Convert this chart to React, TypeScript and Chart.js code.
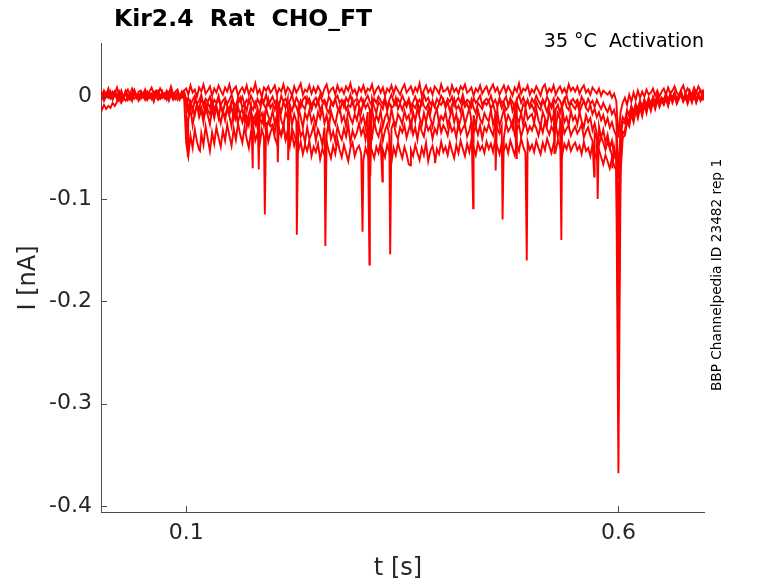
import React, { useEffect, useRef } from 'react';
import { Chart, registerables } from 'chart.js';

Chart.register(...registerables);

// sample times (ms) shared by all sweeps, rows of 50 ms
const sampleMs = [
  0, 2.5, 5, 7.5, 10, 12.5, 15, 17.5, 20, 22.5, 25, 27.5, 30, 32.5, 35, 37.5, 40, 42.5, 45, 47.5,
  50, 52.5, 55, 57.5, 60, 62.5, 65, 67.5, 70, 72.5, 75, 77.5, 80, 82.5, 85, 87.5, 90, 92.5, 95, 97.5,
  100, 102.5, 105, 107.5, 110, 112.5, 115, 117.5, 120, 122.5, 125, 127.5, 130, 132.5, 135, 137.5, 140, 142.5, 145, 147.5,
  150, 152.5, 155, 157.5, 160, 162.5, 165, 167.5, 170, 172.5, 175, 177.5, 180, 182.5, 185, 187.5, 190, 192.5, 195, 197.5,
  200, 202.5, 205, 207.5, 210, 212.5, 215, 217.5, 220, 222.5, 225, 227.5, 230, 232.5, 235, 237.5, 240, 242.5, 245, 247.5,
  250, 252.5, 255, 257.5, 260, 262.5, 265, 267.5, 270, 272.5, 275, 277.5, 280, 282.5, 285, 287.5, 290, 292.5, 295, 297.5,
  300, 302.5, 305, 307.5, 310, 312.5, 315, 317.5, 320, 322.5, 325, 327.5, 330, 332.5, 335, 337.5, 340, 342.5, 345, 347.5,
  350, 352.5, 355, 357.5, 360, 362.5, 365, 367.5, 370, 372.5, 375, 377.5, 380, 382.5, 385, 387.5, 390, 392.5, 395, 397.5,
  400, 402.5, 405, 407.5, 410, 412.5, 415, 417.5, 420, 422.5, 425, 427.5, 430, 432.5, 435, 437.5, 440, 442.5, 445, 447.5,
  450, 452.5, 455, 457.5, 460, 462.5, 465, 467.5, 470, 472.5, 475, 477.5, 480, 482.5, 485, 487.5, 490, 492.5, 495, 497.5,
  500, 502.5, 505, 507.5, 510, 512.5, 515, 517.5, 520, 522.5, 525, 527.5, 530, 532.5, 535, 537.5, 540, 542.5, 545, 547.5,
  550, 552.5, 555, 557.5, 560, 562.5, 565, 567.5, 570, 572.5, 575, 577.5, 580, 582.5, 585, 587.5, 590, 592.5, 595, 597.5,
  600,
  602.5, 605, 607.5, 610, 612.5, 615, 617.5, 620, 622.5, 625, 627.5, 630, 632.5, 635, 637.5, 640, 642.5, 645, 647.5, 650,
  652.5, 655, 657.5, 660, 662.5, 665, 667.5, 670, 672.5, 675, 677.5, 680, 682.5, 685, 687.5, 690, 692.5, 695, 697.5, 700,
];

// currents in pA, one array per sweep, same rows as sampleMs
const sweepA = [
  4, -1, 6, 2, 8, 0, 5, 3, 9, 1, 6, -2, 4, 7, 2, 8, 3, -1, 5, 6,
  2, 7, 0, 5, 9, 3, 6, 1, 8, 4, -1, 6, 3, 10, 2, 5, 7, 0, 4, 6,
  8, 2, 11, 4, 7, 0, 9, 5, 12, 3, 6, 10, 1, 8, 4, 11, 6, 2, 9, 5,
  12, 3, 7, 10, 1, 6, 9, 4, 11, 2, 8, 5, 13, 3, 7, 0, 9, 6, 10, 4,
  7, 11, 2, 8, 5, 12, 3, 9, 6, 1, 10, 4, 8, 13, 2, 7, 5, 11, 3, 9,
  4, 10, 6, 1, 8, 12, 3, 7, 9, 2, 11, 5, 8, 3, 10, 6, 13, 4, 7, 1,
  9, 5, 11, 3, 8, 6, 12, 2, 7, 10, 4, 9, 1, 8, 5, 11, 3, 10, 6, 2,
  8, 12, 4, 7, 10, 3, 9, 5, 13, 1, 6, 11, 4, 8, 2, 10, 7, 3, 12, 5,
  6, 9, 2, 11, 5, 8, 3, 10, 7, 12, 4, 6, 9, 1, 8, 5, 11, 3, 7, 10,
  3, 8, 12, 5, 9, 2, 7, 11, 4, 10, 6, 1, 9, 5, 13, 3, 8, 6, 11, 2,
  7, 4, 10, 6, 1, 9, 12, 3, 8, 5, 11, 2, 7, 10, 4, 8, 3, 12, 6, 9,
  5, 10, 3, 8, 11, 4, 7, 2, 9, 6, 3, 8, 1, 6, 4, 2, 5, -1, 3, -4,
  -40,
  -15, -6, -1, -8, 2, -5, 4, -3, 6, -1, 5, 0, 7, 2, 4, 8, 1, 6, 0, 5,
  8, 2, 9, 3, 6, 10, 4, 1, 7, 11, 3, 8, 5, 2, 9, 4, 10, 6, 3, 8,
];
const sweepB = [
  -2, 3, -4, 1, -1, 5, -3, 2, 0, 4, -5, 1, 3, -2, 2, -4, 4, 0, -1, 3,
  1, -3, 4, -1, 2, -5, 3, 0, -2, 5, -1, 2, -4, 3, 0, -2, 4, -3, 1, 2,
  -6, -1, -9, -3, 1, -7, -4, 2, -8, -2, -5, 0, -10, -3, -6, 1, -8, -4, -1, -7,
  -3, 2, -6, -9, -1, -5, 0, -8, -3, -6, 1, -4, -10, -2, -7, -1, -5, 2, -8, -4,
  0, -6, -3, -9, 1, -5, -2, -7, -4, 2, -8, -1, -5, -10, -3, 0, -6, -2, -9, -4,
  -1, -7, 2, -5, -3, -9, 0, -4, -8, -2, 1, -6, -3, -10, -1, -5, 2, -7, -4, -2,
  -6, -1, -8, -3, 1, -5, -9, -2, -6, 0, -4, -7, -1, -10, -3, 2, -5, -8, -2, -6,
  1, -4, -7, -2, -9, -5, 0, -6, -3, -8, 2, -4, -1, -7, -5, -10, -2, -6, 1, -3,
  -8, -2, -5, 0, -9, -4, -1, -6, 2, -7, -3, -5, -10, -1, -6, -3, 1, -8, -4, -2,
  -5, 1, -7, -3, -9, -1, -6, -4, 0, -8, -2, -5, -10, -3, 2, -6, -1, -7, -4, -9,
  -2, -6, 1, -4, -8, -3, -7, 0, -5, -9, -2, -6, -1, -4, -10, -3, 1, -7, -5, -2,
  -6, -3, -9, 0, -5, -8, -2, -7, -4, -10, -3, -8, -12, -6, -11, -15, -9, -17, -13, -22,
  -80,
  -30, -20, -24, -13, -18, -9, -15, -7, -12, -4, -10, -3, -8, -1, -7, -2, -6, 1, -5, -1,
  -4, 2, -5, 3, -2, 4, -4, 1, 5, -3, 2, -4, 4, -1, 5, -3, 3, 6, -2, 2,
];
const sweepC = [
  -10, -13, -8, -12, -9, -11, -6, -9, -5, -3, -6, -1, -4, 0, -3, 2, -2, 1, -4, 0,
  -1, 3, -3, 1, -2, 4, 0, -3, 2, -1, 3, -2, 1, 4, -1, 2, -3, 1, 3, -1,
  -10, -22, -12, -28, -15, -8, -20, -13, -25, -10, -18, -27, -12, -21, -9, -17, -26, -14, -23, -11,
  -19, -29, -13, -22, -10, -18, -25, -14, -30, -17, -9, -21, -27, -12, -20, -16, -28, -11, -19, -24,
  -14, -26, -18, -10, -23, -29, -15, -21, -12, -27, -17, -24, -11, -20, -30, -16, -22, -13, -25, -19,
  -28, -15, -21, -12, -26, -18, -31, -14, -22, -27, -16, -10, -24, -19, -29, -13, -21, -26, -17, -23,
  -12, -25, -19, -30, -15, -22, -11, -27, -18, -24, -14, -29, -20, -16, -26, -12, -23, -28, -17, -21,
  -27, -14, -22, -18, -31, -15, -24, -11, -20, -28, -16, -25, -13, -21, -29, -18, -12, -26, -19, -23,
  -15, -28, -20, -12, -25, -17, -30, -22, -14, -27, -19, -11, -24, -18, -29, -13, -22, -26, -16, -21,
  -24, -13, -27, -19, -15, -29, -21, -12, -26, -18, -23, -30, -14, -20, -25, -16, -28, -11, -22, -19,
  -17, -26, -12, -23, -29, -15, -21, -27, -13, -24, -18, -30, -16, -22, -11, -25, -20, -28, -14, -23,
  -19, -27, -15, -24, -30, -18, -25, -21, -33, -26, -36, -29, -40, -32, -45, -37, -50, -43, -58, -62,
  -170,
  -55, -34, -36, -22, -27, -15, -23, -12, -19, -9, -17, -7, -14, -5, -12, -4, -11, -3, -9, -2,
  -7, -1, -8, 0, -5, 2, -6, -1, 3, -4, 1, -5, 0, -6, 2, -3, 1, -4, 3, -2,
];
const sweepD = [
  -1, 2, -3, 1, 4, -2, 0, 3, -1, 5, -2, 1, 3, -3, 2, 0, 4, -1, 2, -2,
  3, -1, 1, 4, -2, 2, 0, 5, -1, 3, 1, -3, 4, 0, 2, -2, 3, 1, -1, 2,
  -45, -58, -38, -50, -32, -44, -52, -36, -47, -29, -41, -53, -35, -46, -30, -40, -49, -33, -43, -27,
  -38, -48, -31, -42, -26, -37, -45, -30, -41, -50, -34, -28, -43, -36, -47, -32, -39, -25, -44, -35,
  -29, -40, -46, -33, -38, -27, -42, -35, -48, -31, -37, -44, -26, -39, -34, -45, -30, -41, -36, -28,
  -43, -32, -38, -47, -30, -36, -25, -41, -34, -44, -29, -37, -42, -31, -39, -27, -45, -33, -40, -35,
  -26, -37, -31, -42, -28, -35, -40, -24, -34, -39, -29, -43, -33, -27, -38, -31, -25, -36, -41, -30,
  -35, -28, -40, -32, -24, -37, -30, -42, -27, -34, -39, -26, -33, -29, -41, -31, -36, -23, -35, -28,
  -32, -38, -26, -34, -30, -40, -25, -36, -31, -27, -39, -33, -24, -35, -29, -37, -28, -41, -30, -34,
  -27, -33, -38, -25, -31, -36, -29, -40, -26, -34, -30, -24, -37, -32, -28, -39, -31, -26, -35, -29,
  -33, -26, -31, -38, -28, -35, -24, -32, -37, -29, -34, -27, -39, -30, -25, -36, -31, -28, -38, -33,
  -29, -36, -32, -27, -40, -34, -30, -38, -43, -35, -41, -47, -39, -45, -52, -44, -50, -57, -49, -60,
  -250,
  -62, -36, -34, -20, -25, -14, -21, -11, -18, -8, -16, -6, -13, -4, -11, -2, -10, -1, -8, -3,
  -6, 0, -7, 2, -4, 1, -5, -1, 3, -3, 0, -6, 2, -4, 1, -5, 3, -2, 0, -4,
];
const sweepE = [
  1, -2, 3, 0, 4, -1, 2, 5, -3, 1, 3, -1, 4, 0, -2, 2, 5, 1, -1, 3,
  0, 4, -2, 2, -1, 3, 1, 5, -2, 0, 3, -1, 4, 2, -3, 1, 3, 0, 5, -1,
  -8, -15, -5, -12, -18, -7, -14, -10, -20, -6, -13, -17, -9, -16, -11, -21, -8, -15, -19, -12,
  -17, -10, -22, -14, -25, -16, -12, -24, -19, -28, -15, -23, -18, -30, -21, -26, -17, -32, -24, -29,
  -27, -35, -22, -31, -38, -28, -42, -33, -45, -37, -48, -40, -52, -44, -56, -47, -53, -43, -58, -49,
  -54, -46, -61, -51, -57, -44, -53, -60, -48, -56, -42, -52, -59, -47, -55, -63, -50, -45, -58, -51,
  -48, -56, -62, -50, -57, -46, -53, -60, -49, -55, -44, -52, -59, -47, -54, -64, -50, -57, -45, -53,
  -60, -49, -56, -66, -52, -58, -47, -55, -62, -50, -57, -45, -63, -53, -48, -59, -51, -56, -44, -54,
  -49, -57, -45, -53, -60, -47, -55, -43, -51, -58, -46, -54, -42, -50, -57, -45, -52, -48, -55, -44,
  -51, -46, -54, -42, -49, -56, -45, -52, -47, -55, -43, -50, -57, -46, -53, -41, -49, -55, -44, -52,
  -47, -54, -43, -50, -56, -45, -52, -41, -48, -55, -46, -53, -42, -49, -57, -46, -51, -44, -53, -48,
  -45, -52, -48, -56, -44, -53, -50, -58, -47, -55, -61, -52, -59, -66, -57, -63, -70, -60, -67, -72,
  -368,
  -75, -40, -38, -24, -29, -17, -25, -13, -21, -10, -19, -8, -16, -6, -14, -5, -12, -3, -10, -4,
  -8, -2, -9, 0, -6, 1, -7, -2, 2, -5, 0, -7, 1, -4, 2, -6, 0, -3, 2, -1,
];
const sweepF = [
  0, 4, -2, 3, 6, 1, -1, 5, 2, -3, 4, 0, 6, 2, -1, 3, 7, 1, -2, 4,
  2, -1, 5, 1, 3, -2, 4, 6, 0, 3, -1, 5, 2, 7, 1, -2, 4, 0, 3, 5,
  -2, -10, -5, -14, -3, -8, -12, -1, -9, -15, -6, -11, -3, -13, -7, -2, -10, -16, -5, -9,
  -12, -4, -8, -15, -6, -1, -11, -7, -14, -3, -9, -13, -5, -10, -16, -4, -8, -12, -2, -11,
  -7, -13, -3, -9, -15, -5, -11, -2, -8, -14, -6, -10, -17, -4, -9, -12, -1, -7, -13, -5,
  -10, -3, -14, -8, -5, -12, -16, -6, -9, -2, -11, -15, -7, -4, -13, -8, -10, -3, -14, -6,
  -9, -15, -4, -11, -7, -13, -2, -10, -16, -5, -8, -12, -3, -14, -6, -11, -9, -1, -12, -7,
  -13, -6, -10, -3, -15, -8, -11, -5, -14, -2, -9, -12, -7, -16, -4, -10, -13, -6, -8, -3,
  -11, -5, -14, -8, -2, -12, -9, -15, -4, -10, -7, -13, -3, -11, -16, -6, -9, -12, -5, -8,
  -4, -12, -7, -15, -9, -3, -11, -6, -13, -10, -2, -14, -8, -5, -12, -16, -7, -10, -3, -11,
  -8, -14, -5, -10, -13, -3, -9, -15, -6, -11, -4, -12, -8, -16, -7, -2, -10, -13, -5, -9,
  -12, -6, -15, -9, -4, -11, -14, -8, -17, -12, -20, -15, -23, -18, -27, -21, -30, -25, -33, -38,
  -120,
  -40, -24, -26, -14, -19, -10, -16, -8, -13, -5, -11, -3, -9, -2, -8, 0, -6, 1, -5, -1,
  -3, 3, -4, 2, -1, 4, -3, 2, 5, -2, 3, -1, 6, 0, -2, 4, 1, -3, 5, 0,
];

// brief openings between samples: [ms, pA]
const spikesC = [[102, -59], [177, -70], [228, -135], [312, -164], [432, -109], [534, -140], [576, -100]];
const spikesD = [[116, -53], [191, -115], [261, -146], [336, -154], [466, -120], [572, -78], [593, -70]];
const spikesE = [[304, -132], [327, -83], [359, -67], [388, -65], [494, -160]];
const spikesF = [[184, -71], [206, -64], [218, -62], [313, -78], [458, -72], [482, -60], [526, -56]];

const xTicks = [0.1, 0.6];
const xTickLabels = ['0.1', '0.6'];
const yTicks = [-0.4, -0.3, -0.2, -0.1, 0];
const yTickLabels = ['-0.4', '-0.3', '-0.2', '-0.1', '0'];

const FONT = "'DejaVu Sans', sans-serif";
const AXIS = '#4d4d4d';
const TEXT = '#262626';

const toPoints = (vals: number[], spikes: number[][] = []) => {
  const pts = sampleMs.map((ms, i) => ({ x: ms / 1000, y: vals[i] / 1000 }));
  spikes.forEach(([ms, pA]) => pts.push({ x: ms / 1000, y: pA / 1000 }));
  return pts.sort((a, b) => a.x - b.x);
};

// inward ticks + texts, drawn like the matlab figure
const decor = {
  id: 'decor',
  afterDraw(chart: any) {
    const { ctx, chartArea: a } = chart;
    const x = chart.scales.x;
    const y = chart.scales.y;
    ctx.save();
    ctx.strokeStyle = AXIS;
    ctx.lineWidth = 1;
    ctx.beginPath();
    xTicks.forEach((v) => {
      const px = Math.round(x.getPixelForValue(v)) + 0.5;
      ctx.moveTo(px, a.bottom);
      ctx.lineTo(px, a.bottom - 6);
    });
    yTicks.forEach((v) => {
      const py = Math.round(y.getPixelForValue(v)) + 0.5;
      ctx.moveTo(a.left, py);
      ctx.lineTo(a.left + 6, py);
    });
    ctx.stroke();

    ctx.fillStyle = '#000';
    ctx.textBaseline = 'alphabetic';
    ctx.font = `bold 23.5px ${FONT}`;
    ctx.textAlign = 'left';
    ctx.fillText('Kir2.4  Rat  CHO_FT', 114, 26);
    ctx.font = `19px ${FONT}`;
    ctx.textAlign = 'right';
    ctx.fillText('35 °C  Activation', 704, 47);

    ctx.fillStyle = TEXT;
    ctx.font = `24px ${FONT}`;
    ctx.textAlign = 'center';
    ctx.fillText('t [s]', 398, 575);

    ctx.save();
    ctx.translate(35, 278);
    ctx.rotate(-Math.PI / 2);
    ctx.fillText('I [nA]', 0, 0);
    ctx.restore();

    ctx.fillStyle = '#000';
    ctx.font = `13.7px ${FONT}`;
    ctx.save();
    ctx.translate(721, 275);
    ctx.rotate(-Math.PI / 2);
    ctx.fillText('BBP Channelpedia ID 23482 rep 1', 0, 0);
    ctx.restore();
    ctx.restore();
  },
};

const sweeps = [
  toPoints(sweepE, spikesE),
  toPoints(sweepD, spikesD),
  toPoints(sweepC, spikesC),
  toPoints(sweepF, spikesF),
  toPoints(sweepB),
  toPoints(sweepA),
];

export default function App() {
  const canvasRef = useRef<HTMLCanvasElement>(null);

  useEffect(() => {
    if (!canvasRef.current) return;
    const chart = new Chart(canvasRef.current, {
      type: 'line',
      data: {
        datasets: sweeps.map((data) => ({
          data,
          borderColor: '#ff0000',
          borderWidth: 1.9,
          pointRadius: 0,
          tension: 0,
          fill: false,
        })),
      },
      options: {
        animation: false,
        responsive: true,
        maintainAspectRatio: false,
        layout: { padding: { top: 43, right: 74, left: 0, bottom: 0 } },
        plugins: { legend: { display: false }, tooltip: { enabled: false }, title: { display: false } },
        scales: {
          x: {
            type: 'linear',
            min: 0.0015,
            max: 0.699,
            afterBuildTicks: (s: any) => {
              s.ticks = xTicks.map((value) => ({ value }));
            },
            afterFit: (s: any) => {
              s.height = 71;
            },
            grid: { display: false, drawTicks: false },
            border: { display: true, color: AXIS, width: 1 },
            ticks: {
              autoSkip: false,
              maxRotation: 0,
              padding: 8,
              color: TEXT,
              font: { family: FONT, size: 22 },
              callback: (_v: any, i: number) => xTickLabels[i],
            },
          },
          y: {
            type: 'linear',
            min: -0.4059,
            max: 0.0525,
            afterBuildTicks: (s: any) => {
              s.ticks = yTicks.map((value) => ({ value }));
            },
            afterFit: (s: any) => {
              s.width = 101;
            },
            grid: { display: false, drawTicks: false },
            border: { display: true, color: AXIS, width: 1 },
            ticks: {
              autoSkip: false,
              padding: 9,
              color: TEXT,
              font: { family: FONT, size: 22 },
              callback: (_v: any, i: number) => yTickLabels[i],
            },
          },
        },
      },
      plugins: [decor],
    });
    return () => chart.destroy();
  }, []);

  return (
    <div style={{ position: 'absolute', left: 0, top: 0, width: 778, height: 583 }}>
      <canvas ref={canvasRef} />
    </div>
  );
}
